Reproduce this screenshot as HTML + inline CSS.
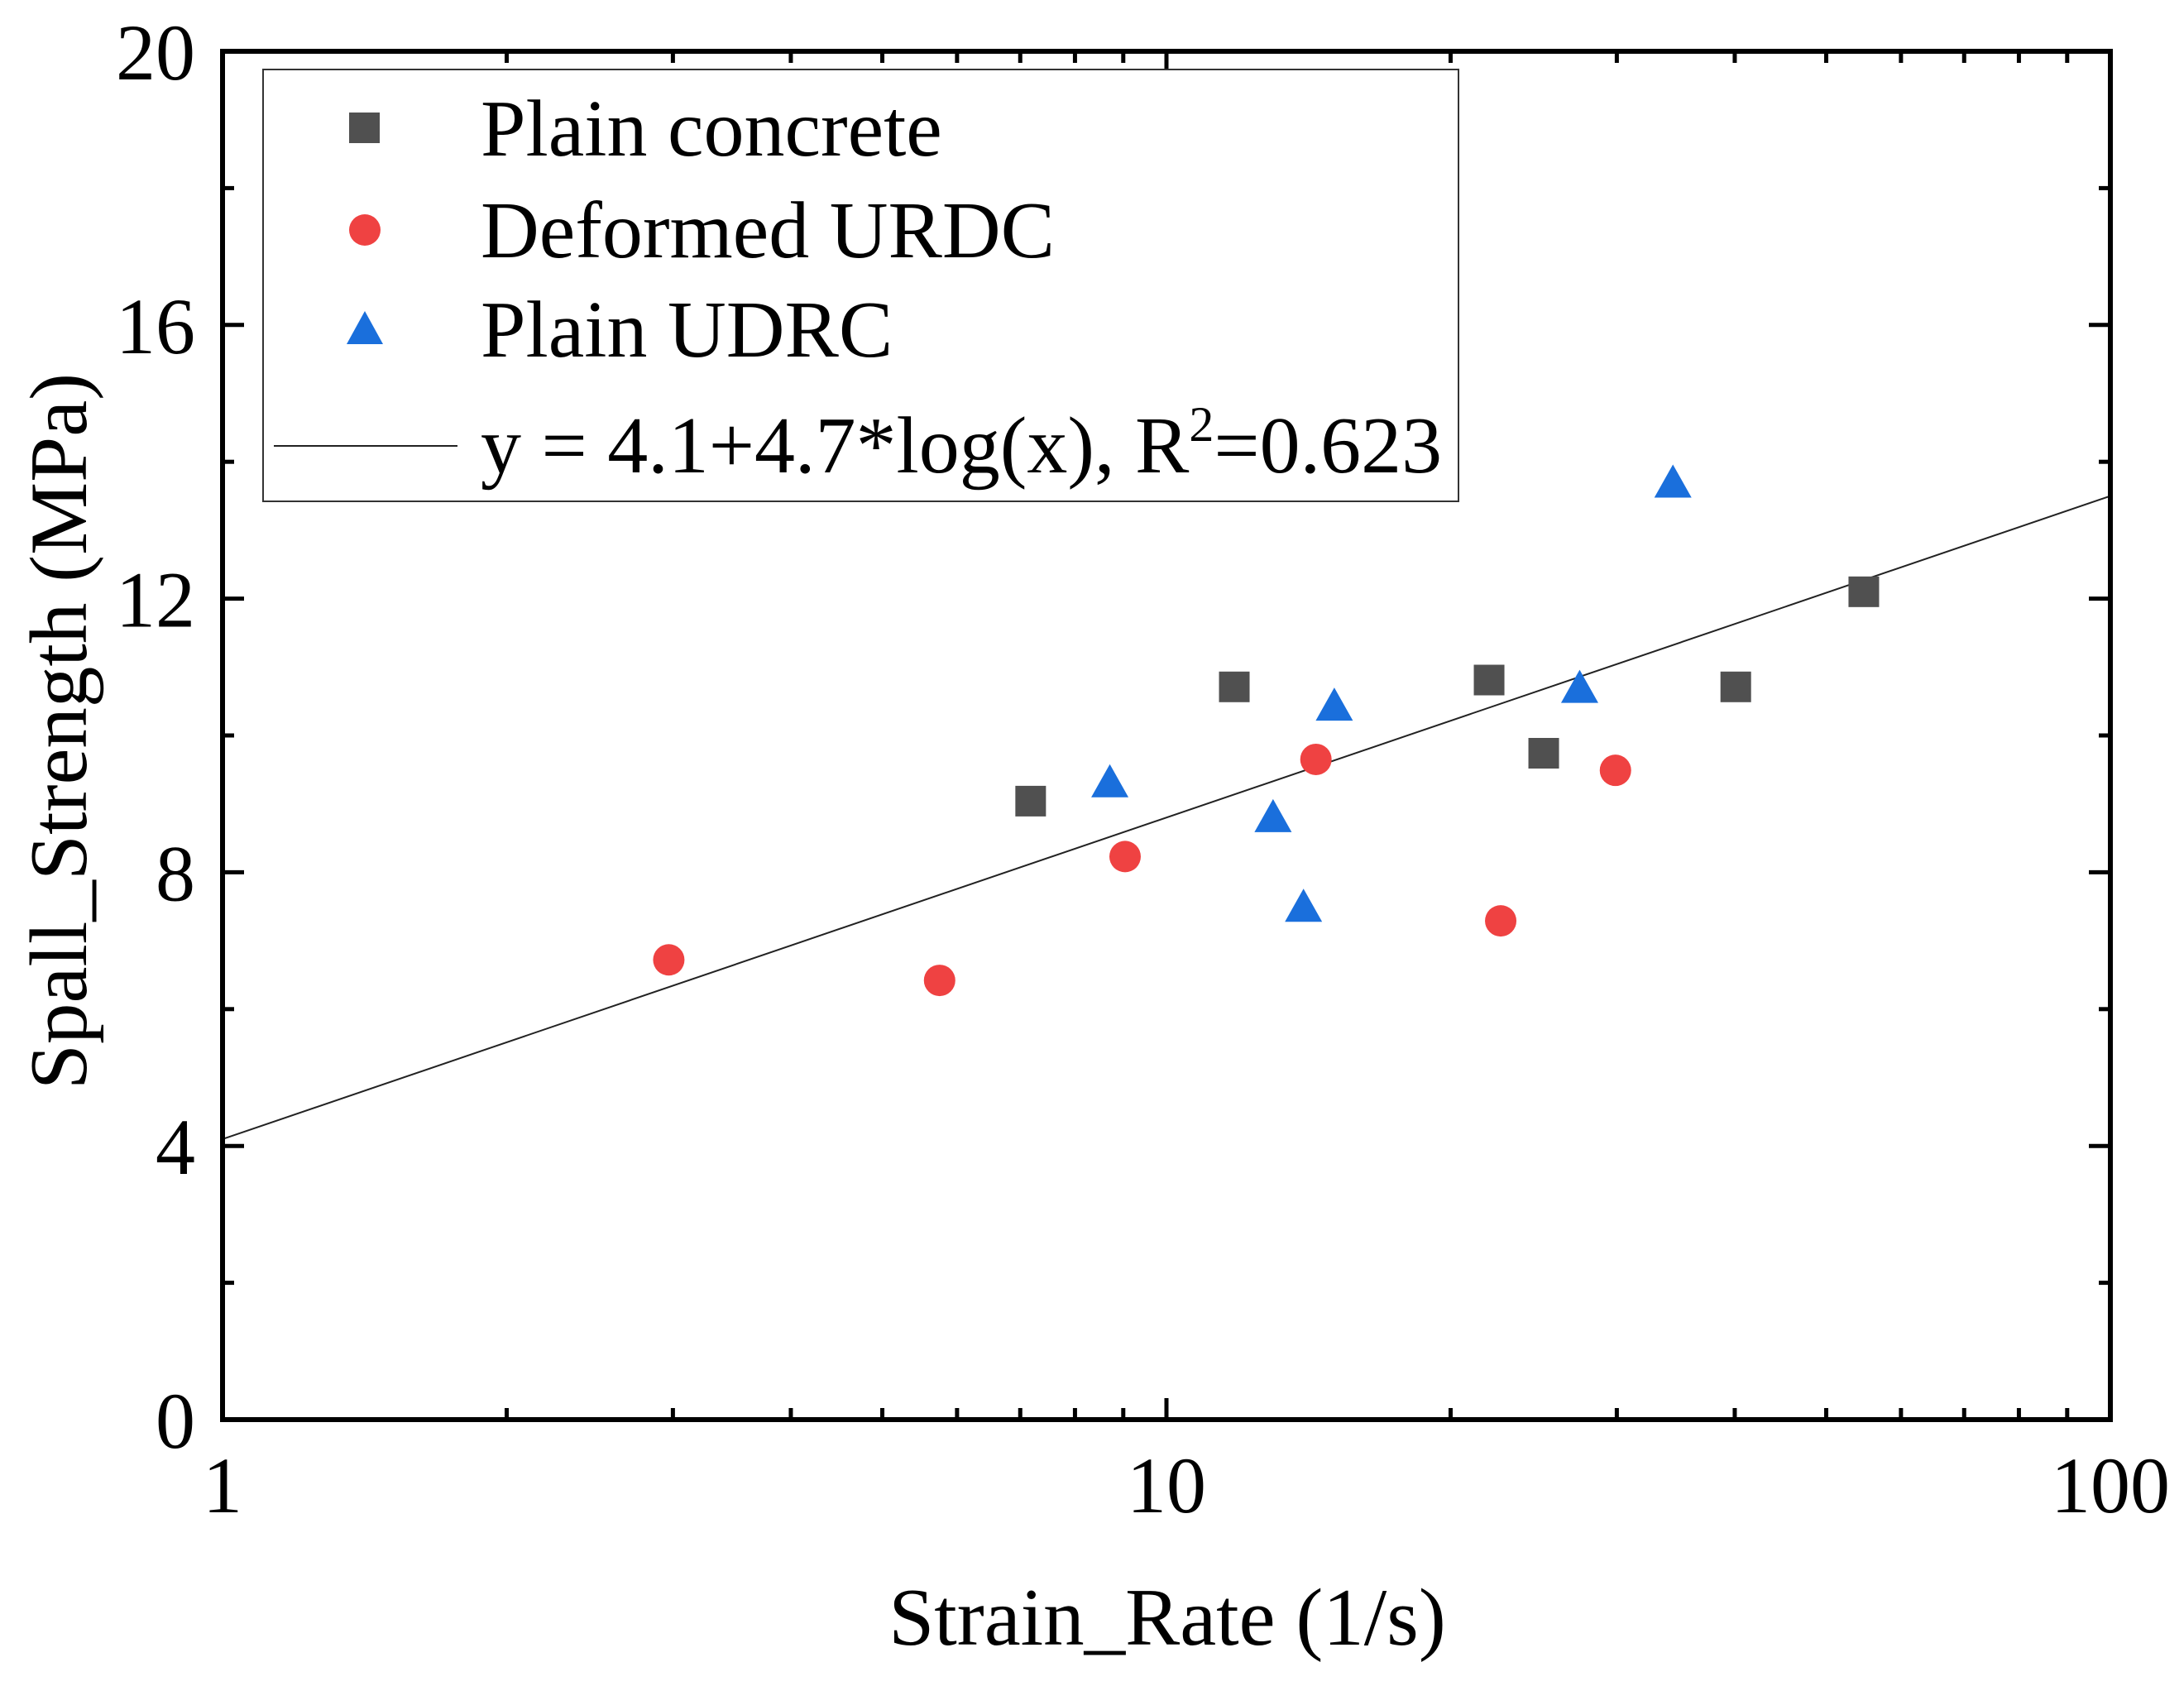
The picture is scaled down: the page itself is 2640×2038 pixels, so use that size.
<!DOCTYPE html>
<html><head><meta charset="utf-8"><style>
html,body{margin:0;padding:0;background:#fff;}
svg{display:block;font-family:"Liberation Serif",serif;}
</style></head><body>
<svg id="chart" width="2640" height="2038" viewBox="0 0 2640 2038">
<g id="marks"></g>
<g id="axes"></g>
<g id="legend">
  <rect x="318" y="84" width="1445" height="522" fill="#fff" stroke="#333" stroke-width="2"/>
  <rect x="422" y="136" width="37" height="37" fill="#505050"/>
  <text x="581" y="188" font-size="98">Plain concrete</text>
  <circle cx="441" cy="278" r="19" fill="#ef4242"/>
  <text x="581" y="311" font-size="98">Deformed URDC</text>
  <polygon points="441,376 419,416 463,416" fill="#1a6fdc"/>
  <text x="581" y="431" font-size="98">Plain UDRC</text>
  <line x1="331" y1="539" x2="553" y2="539" stroke="#222" stroke-width="2"/>
  <text x="581" y="571" font-size="98">y = 4.1+4.7*log(x), R<tspan dy="-38" font-size="60">2</tspan><tspan dy="38">=0.623</tspan></text>
</g>
<text x="1411" y="1988" font-size="99" text-anchor="middle">Strain_Rate (1/s)</text>
<text transform="translate(104,884) rotate(-90)" font-size="99" text-anchor="middle">Spall_Strength (MPa)</text>
</svg>
<script>
const plainX = [7.18, 11.8, 21.97, 25.1, 40.1, 54.8];
const plainY = [9.04, 10.71, 10.81, 9.74, 10.71, 12.10];
const deformedX = [2.97, 5.75, 9.04, 14.4, 22.6, 29.9];
const deformedY = [6.72, 6.42, 8.23, 9.65, 7.29, 9.49];
const udrcX = [8.71, 12.97, 13.97, 15.06, 27.4, 34.4];
const udrcY = [9.29, 8.78, 7.47, 10.41, 10.67, 13.67];
const fitA = 4.1, fitB = 4.7;
const yTicks = [0, 4, 8, 12, 16, 20];
const xTicks = [1, 10, 100];
const xTickLabels = ["1", "10", "100"];

const L=269,R=2551,T=62,B=1716;
const xs = v => L + (Math.log10(v) - 0) / 2 * (R - L);
const ys = v => B - v / 20 * (B - T);
const NS="http://www.w3.org/2000/svg";
const marks=document.getElementById('marks');
const axes=document.getElementById('axes');
function mk(tag, attrs, parent){const e=document.createElementNS(NS,tag);for(const k in attrs)e.setAttribute(k,attrs[k]);parent.appendChild(e);return e;}

const fit=mk('line',{x1:xs(1),y1:ys(fitA+fitB*Math.log10(1)),x2:xs(100),y2:ys(fitA+fitB*Math.log10(100)),stroke:'#222','stroke-width':2},marks);



plainX.forEach((x,i)=>{const e=mk('rect',{x:xs(x)-18.5,y:ys(plainY[i])-18.5,width:37,height:37,fill:'#505050'},marks);

});
deformedX.forEach((x,i)=>{const e=mk('circle',{cx:xs(x),cy:ys(deformedY[i]),r:19,fill:'#ef4242'},marks);

});
udrcX.forEach((x,i)=>{const cx=xs(x),cy=ys(udrcY[i]);const e=mk('polygon',{points:`${cx},${cy-24} ${cx-22.5},${cy+16} ${cx+22.5},${cy+16}`,fill:'#1a6fdc'},marks);

});

const fr=mk('rect',{x:L,y:T,width:R-L,height:B-T,fill:'none',stroke:'#000','stroke-width':6},axes);


for(let v=0;v<=20;v+=2){const major=v%4===0;const len=major?26:14;const y=ys(v);
 mk('line',{x1:L,y1:y,x2:L+len,y2:y,stroke:'#000','stroke-width':5},axes);
 mk('line',{x1:R,y1:y,x2:R-len,y2:y,stroke:'#000','stroke-width':5},axes);}
yTicks.forEach(v=>{const t=mk('text',{x:236,y:ys(v)+34,'font-size':96,'text-anchor':'end'},axes);t.textContent=String(v);

});
for(let d=0;d<2;d++){for(let m=1;m<=10;m++){const v=Math.pow(10,d)*m;const major=(m===1||m===10);const len=major?26:14;const x=xs(v);
 mk('line',{x1:x,y1:B,x2:x,y2:B-len,stroke:'#000','stroke-width':5},axes);
 mk('line',{x1:x,y1:T,x2:x,y2:T+len,stroke:'#000','stroke-width':5},axes);}}
xTicks.forEach((v,i)=>{const t=mk('text',{x:xs(v),y:1828,'font-size':96,'text-anchor':'middle'},axes);t.textContent=xTickLabels[i];

});
</script>
</body></html>
